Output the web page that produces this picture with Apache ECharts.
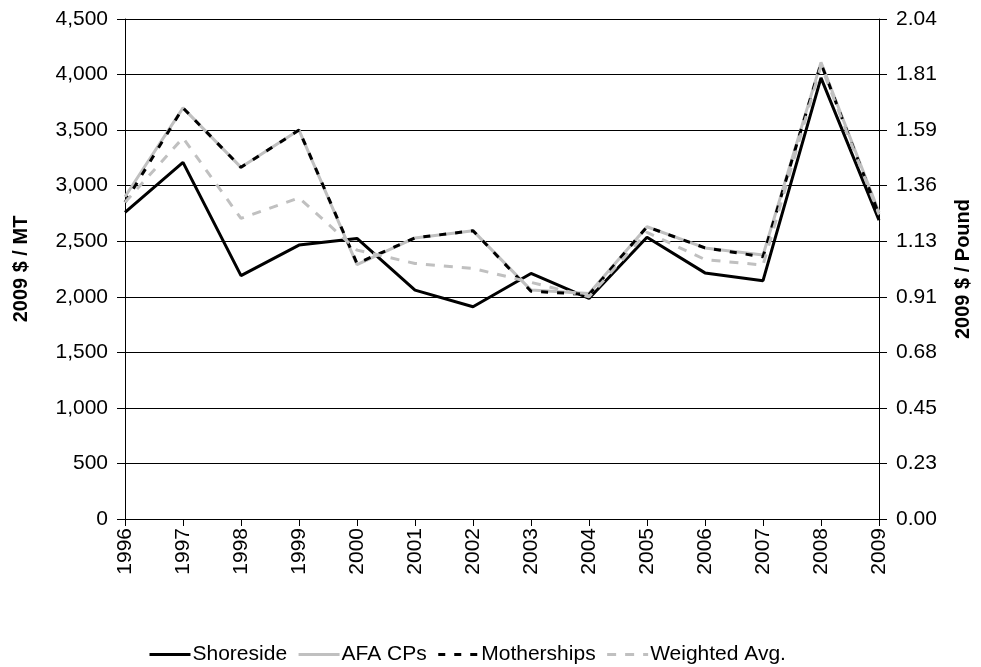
<!DOCTYPE html>
<html>
<head>
<meta charset="utf-8">
<script src="https://cdn.jsdelivr.net/npm/echarts@6/dist/echarts.min.js"></script>
<style>
html, body { margin: 0; padding: 0; background: #fff; }
#chart { width: 981px; height: 667px; }
</style>
</head>
<body>
<div id="chart"></div>
<script>
const years = ['1996', '1997', '1998', '1999', '2000', '2001', '2002', '2003', '2004', '2005', '2006', '2007', '2008', '2009'];
const shoreside = [2760, 3210, 2190, 2465, 2525, 2060, 1910, 2210, 1985, 2535, 2215, 2145, 3970, 2690];
const afaCPs = [2900, 3700, 3165, 3500, 2290, 2530, 2595, 2060, 2030, 2630, 2440, 2375, 4110, 2760];
const motherships = [2850, 3700, 3165, 3500, 2300, 2530, 2595, 2050, 2020, 2630, 2440, 2360, 4100, 2740];
const weightedAvg = [2850, 3430, 2705, 2890, 2420, 2300, 2255, 2130, 2000, 2580, 2335, 2285, 4080, 2740];
const LB_PER_MT = 2204.62;

const font = '"Liberation Sans", Arial, sans-serif';
const chart = echarts.init(document.getElementById('chart'));

function line(name, data, color, type) {
  return {
    name: name,
    type: 'line',
    data: data,
    symbol: 'none',
    lineStyle: { color: color, width: 3, type: type },
    itemStyle: { color: color },
    animation: false
  };
}

chart.setOption({
  backgroundColor: '#fff',
  animation: false,
  grid: { left: 125, right: 101, top: 19, bottom: 148 },
  legend: {
    top: 639,
    left: 143,
    itemWidth: 41,
    itemHeight: 14,
    itemGap: 10,
    lineStyle: { width: 3 },
    itemStyle: { opacity: 0 },
    textStyle: { fontFamily: font, fontSize: 21, color: '#000', padding: [0, 0, 0, -3] },
    data: ['Shoreside', 'AFA CPs', 'Motherships', 'Weighted Avg.']
  },
  xAxis: {
    type: 'category',
    data: years,
    boundaryGap: false,
    axisLine: { lineStyle: { color: '#000', width: 1 } },
    axisTick: { show: true, alignWithLabel: true, length: 7, lineStyle: { color: '#000' } },
    axisLabel: { rotate: 90, fontFamily: font, fontSize: 21, color: '#000', margin: 9 }
  },
  yAxis: [
    {
      type: 'value',
      min: 0, max: 4500, interval: 500,
      name: '2009 $ / MT',
      nameLocation: 'middle',
      nameGap: 94,
      nameTextStyle: { fontFamily: font, fontSize: 20, fontWeight: 'bold', color: '#000' },
      axisLine: { show: true, lineStyle: { color: '#000' } },
      axisTick: { show: true, length: 8, lineStyle: { color: '#000' } },
      splitLine: { show: true, lineStyle: { color: '#000', width: 1 } },
      axisLabel: {
        fontFamily: font, fontSize: 21, color: '#000', margin: 17,
        formatter: v => v.toLocaleString('en-US')
      }
    },
    {
      type: 'value',
      min: 0, max: 4500 / LB_PER_MT, interval: 500 / LB_PER_MT,
      name: '2009 $ / Pound',
      nameLocation: 'middle',
      nameGap: 74,
      nameTextStyle: { fontFamily: font, fontSize: 20, fontWeight: 'bold', color: '#000' },
      axisLine: { show: true, lineStyle: { color: '#000' } },
      axisTick: { show: true, length: 8, lineStyle: { color: '#000' } },
      splitLine: { show: false },
      axisLabel: {
        fontFamily: font, fontSize: 21, color: '#000', margin: 17,
        formatter: v => v.toFixed(2)
      }
    }
  ],
  series: [
    line('Shoreside', shoreside, '#000000', 'solid'),
    line('AFA CPs', afaCPs, '#c0c0c0', 'solid'),
    line('Motherships', motherships, '#000000', [7, 9]),
    line('Weighted Avg.', weightedAvg, '#c0c0c0', [9, 9])
  ]
});
</script>
</body>
</html>
